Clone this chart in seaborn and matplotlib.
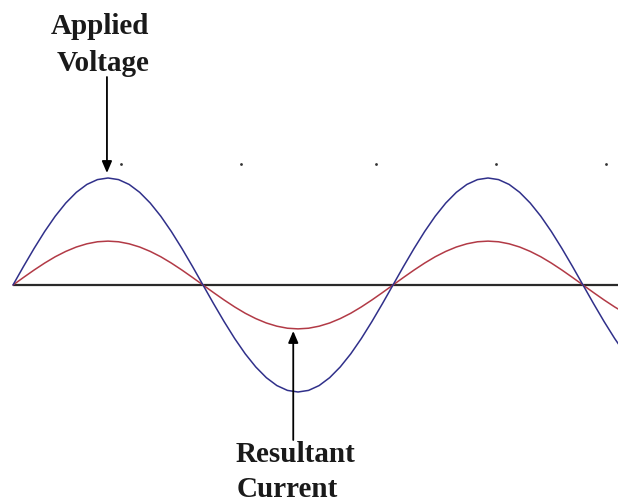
import matplotlib
matplotlib.use("Agg")
import matplotlib.pyplot as plt
import seaborn as sns
import pandas as pd

# phase angle in degrees
angle = [0, 10, 20, 30, 40, 50, 60, 70, 80, 90, 100, 110, 120, 130, 140, 150, 160, 170,
         180, 190, 200, 210, 220, 230, 240, 250, 260, 270, 280, 290, 300, 310, 320, 330, 340, 350,
         360, 370, 380, 390, 400, 410, 420, 430, 440, 450, 460, 470, 480, 490, 500, 510, 520, 530,
         540, 550, 560, 570, 580]
# applied voltage (relative to its peak)
voltage = [0.000, 0.174, 0.342, 0.500, 0.643, 0.766, 0.866, 0.940, 0.985, 1.000, 0.985, 0.940,
           0.866, 0.766, 0.643, 0.500, 0.342, 0.174,
           0.000, -0.174, -0.342, -0.500, -0.643, -0.766, -0.866, -0.940, -0.985, -1.000, -0.985, -0.940,
           -0.866, -0.766, -0.643, -0.500, -0.342, -0.174,
           0.000, 0.174, 0.342, 0.500, 0.643, 0.766, 0.866, 0.940, 0.985, 1.000, 0.985, 0.940,
           0.866, 0.766, 0.643, 0.500, 0.342, 0.174,
           0.000, -0.174, -0.342, -0.500, -0.643]
# resultant current (same scale)
current = [0.000, 0.071, 0.140, 0.205, 0.264, 0.314, 0.355, 0.385, 0.404, 0.410, 0.404, 0.385,
           0.355, 0.314, 0.264, 0.205, 0.140, 0.071,
           0.000, -0.071, -0.140, -0.205, -0.264, -0.314, -0.355, -0.385, -0.404, -0.410, -0.404, -0.385,
           -0.355, -0.314, -0.264, -0.205, -0.140, -0.071,
           0.000, 0.071, 0.140, 0.205, 0.264, 0.314, 0.355, 0.385, 0.404, 0.410, 0.404, 0.385,
           0.355, 0.314, 0.264, 0.205, 0.140, 0.071,
           0.000, -0.071, -0.140, -0.205, -0.264]
dot_angles = [102, 216, 344, 458, 562]
dot_level = [1.13, 1.13, 1.13, 1.13, 1.13]

labels_top = ["Applied", "Voltage"]
labels_bottom = ["Resultant", "Current"]

sns.set_style("white")
fig = plt.figure(figsize=(6.18, 5.04), dpi=100)
ax = fig.add_axes([0, 0, 1, 1])

PX = 380 / 360.0   # pixels per degree
PY = 107.0         # pixels per unit
ax.set_xlim(-13 / PX, (618 - 13) / PX)
ax.set_ylim(-(504 - 285) / PY, 285 / PY)

def ypx(p):
    return (285 - p) / PY

df = pd.DataFrame({"angle": angle, "voltage": voltage, "current": current})

ax.plot([0, 620 / PX], [0, 0], color="#2a2a2a", lw=1.6, solid_capstyle="butt", zorder=1)
sns.lineplot(data=df, x="angle", y="voltage", ax=ax, color="#30308a", lw=1.1,
             sort=False, estimator=None, zorder=3)
sns.lineplot(data=df, x="angle", y="current", ax=ax, color="#b23a46", lw=1.1,
             sort=False, estimator=None, zorder=2)
ax.scatter(dot_angles, dot_level, s=4, color="#333333", linewidths=0)

ax.annotate("", xy=(89, ypx(173)), xytext=(89, ypx(77)),
            arrowprops=dict(arrowstyle="-|>,head_length=0.7,head_width=0.3",
                            color="black", lw=1.3, shrinkA=0, shrinkB=0))
ax.annotate("", xy=(265.5, ypx(331)), xytext=(265.5, ypx(440)),
            arrowprops=dict(arrowstyle="-|>,head_length=0.7,head_width=0.3",
                            color="black", lw=1.3, shrinkA=0, shrinkB=0))

font = dict(family="Liberation Serif", fontweight="bold", fontsize=21, color="#1a1a1a")
ax.text((100 - 13) / PX, ypx(34), labels_top[0], ha="center", va="baseline", **font)
ax.text((103 - 13) / PX, ypx(71), labels_top[1], ha="center", va="baseline", **font)
ax.text((295 - 13) / PX, ypx(462), labels_bottom[0], ha="center", va="baseline", **font)
ax.text((287 - 13) / PX, ypx(497), labels_bottom[1], ha="center", va="baseline", **font)

ax.set_axis_off()
fig.savefig("out.png", dpi=100)
